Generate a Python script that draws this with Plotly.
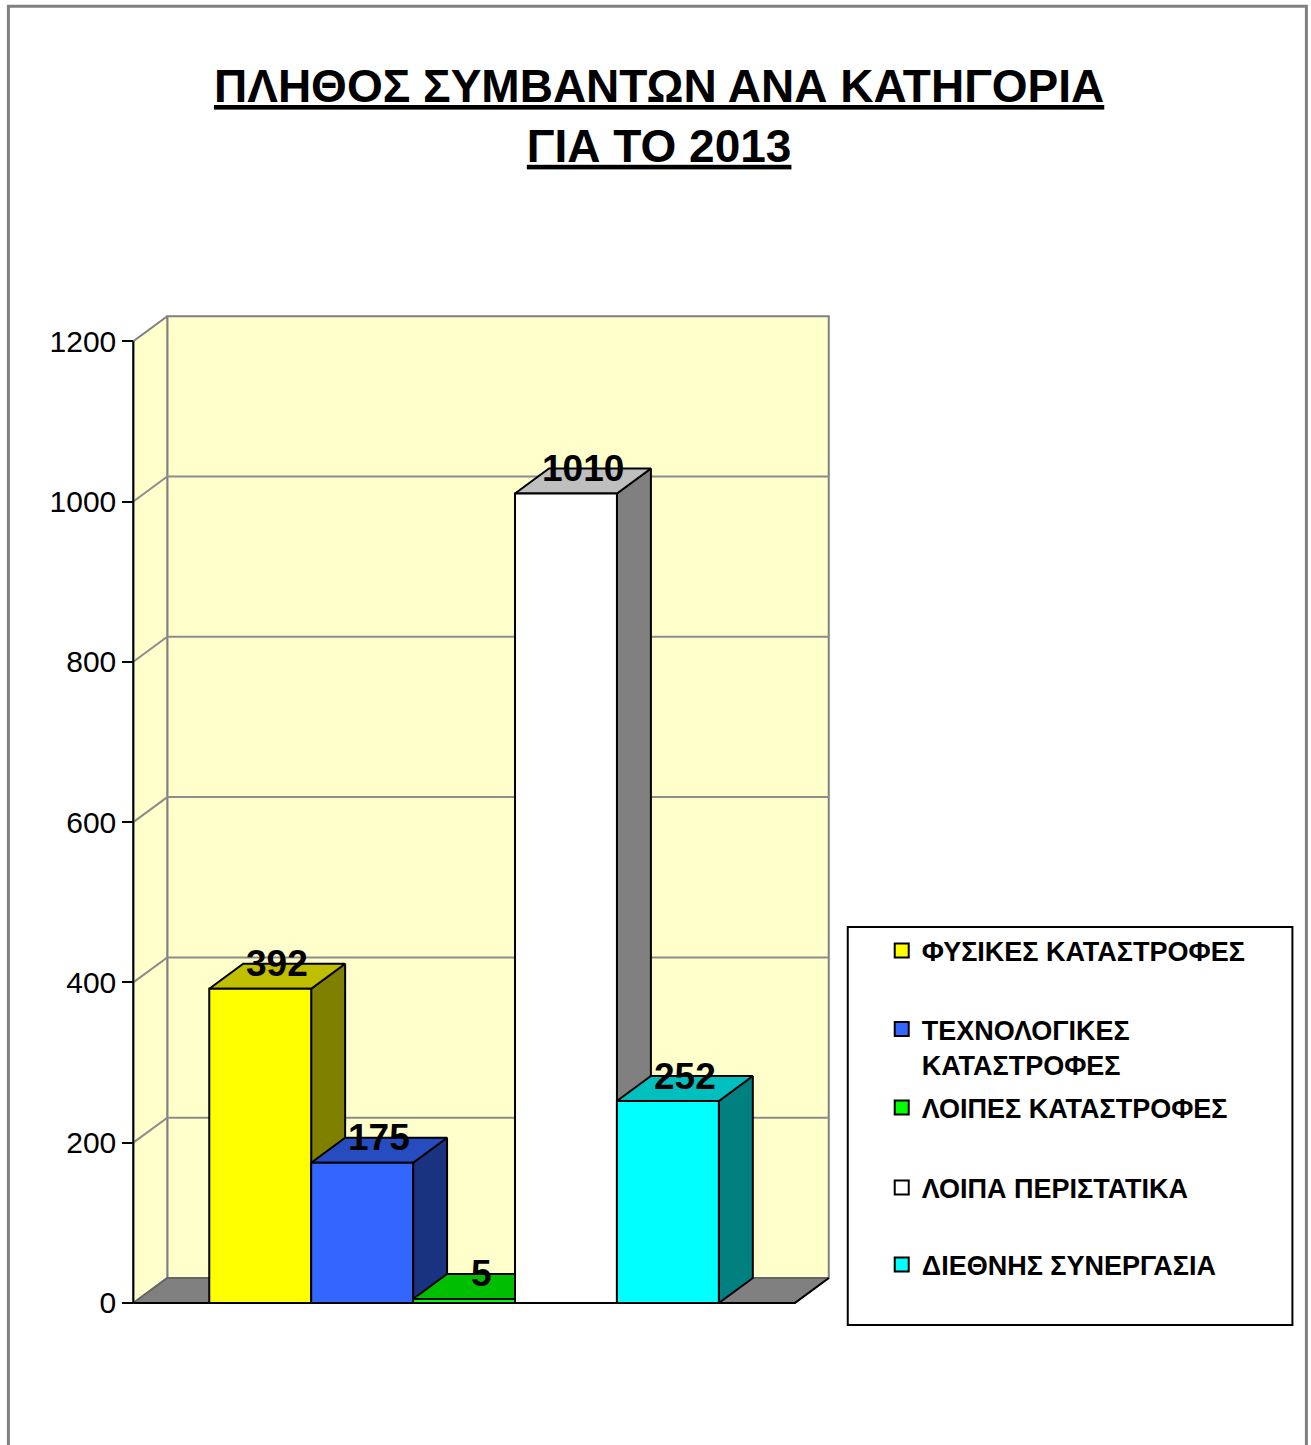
import plotly.graph_objects as go

# ---------------- data ----------------
categories = ["ΦΥΣΙΚΕΣ ΚΑΤΑΣΤΡΟΦΕΣ", "ΤΕΧΝΟΛΟΓΙΚΕΣ<br>ΚΑΤΑΣΤΡΟΦΕΣ", "ΛΟΙΠΕΣ ΚΑΤΑΣΤΡΟΦΕΣ",
              "ΛΟΙΠΑ ΠΕΡΙΣΤΑΤΙΚΑ", "ΔΙΕΘΝΗΣ ΣΥΝΕΡΓΑΣΙΑ"]
values = [392, 175, 5, 1010, 252]
front_colors = ["#FFFF00", "#3366FF", "#00FF00", "#FFFFFF", "#00FFFF"]
tick_values = [0, 200, 400, 600, 800, 1000, 1200]
title_lines = ["ΠΛΗΘΟΣ ΣΥΜΒΑΝΤΩΝ ΑΝΑ ΚΑΤΗΓΟΡΙΑ", "ΓΙΑ ΤΟ 2013"]

# ---------------- geometry / style ----------------
W, H = 1311, 1445
KX = 102.0            # px per category unit
KY = 962.0 / 1200.0   # px per value unit
DX = 34.0 / KX        # 3-D depth in x units
DY = 25.0 / KY        # 3-D depth in y units
GAP = 76.0 / KX
n = len(values)
FL = -0.5 - GAP
FR = n - 0.5 + GAP
YMAX = tick_values[-1]
XMIN, XMAX = FL - 0.16, FR + DX + 0.12
YMIN, YTOP = -15.0, YMAX + DY + 14.0
AX_PX, ZERO_PY = 133.0, 1303.0

ml = AX_PX - (FL - XMIN) * KX
plot_w = (XMAX - XMIN) * KX
mr = W - ml - plot_w
mt = ZERO_PY - YTOP * KY
plot_h = (YTOP - YMIN) * KY
mb = H - mt - plot_h


def paper(px, py):
    return (px - ml) / plot_w, (H - mb - py) / plot_h


def shade(hexc, f):
    h = hexc.lstrip("#")
    r, g, b = (int(h[i:i + 2], 16) for i in (0, 2, 4))
    return "#%02X%02X%02X" % (round(r * f), round(g * f), round(b * f))


FONT = "Liberation Sans, Arial, sans-serif"
fig = go.Figure()


def poly(xs, ys, fill, lc, lw):
    fig.add_trace(go.Scatter(x=xs + [xs[0]], y=ys + [ys[0]], fill="toself", fillcolor=fill,
                             mode="lines", line=dict(color=lc, width=lw),
                             showlegend=False, hoverinfo="skip"))


def line(xs, ys, lc, lw):
    fig.add_trace(go.Scatter(x=xs, y=ys, mode="lines", line=dict(color=lc, width=lw),
                             showlegend=False, hoverinfo="skip", connectgaps=False))


# walls
poly([FL + DX, FR + DX, FR + DX, FL + DX], [DY, DY, YMAX + DY, YMAX + DY], "#FFFFCC", "#808080", 2)
poly([FL, FL + DX, FL + DX, FL], [0, DY, YMAX + DY, YMAX], "#FFFFCC", "#808080", 2)
# gridlines across side wall and back wall
gx, gy = [], []
for v in tick_values[1:-1]:
    gx += [FL, FL + DX, FR + DX, None]
    gy += [v, v + DY, v + DY, None]
line(gx, gy, "#8C8C8C", 2)
# floor
poly([FL, FR, FR + DX, FL + DX], [0, 0, DY, DY], "#808080", "#666666", 2)
line([FL, FR, FR + DX], [0, 0, DY], "#000000", 2)
# front axis line
line([FL, FL], [0, YMAX], "#000000", 2)

# bars
for i, (v, c) in enumerate(zip(values, front_colors)):
    x0, x1 = i - 0.5, i + 0.5
    poly([x1, x1 + DX, x1 + DX, x1], [0, DY, v + DY, v], shade(c, 0.5), "#000000", 2)
    poly([x0, x1, x1 + DX, x0 + DX], [v, v, v + DY, v + DY], shade(c, 0.75), "#000000", 2)
    poly([x0, x1, x1, x0], [0, 0, v, v], c, "#000000", 2)

# legend entries (one legend per item, placed like the reference)
legend_py = [951, 1005, 1108, 1188, 1265]
legend_keys = ["legend", "legend2", "legend3", "legend4", "legend5"]
layout_legends = {}
for k, (name, c, py) in enumerate(zip(categories, front_colors, legend_py)):
    fig.add_trace(go.Scatter(x=[None], y=[None], mode="markers", name="<b>%s</b>" % name,
                             marker=dict(symbol="square", size=14, color=c,
                                         line=dict(color="#000000", width=2)),
                             legend=legend_keys[k], showlegend=True))
    lx, ly = paper(882, py)
    layout_legends[legend_keys[k]] = dict(
        x=lx, y=ly, xanchor="left", yanchor="top" if k == 1 else "middle",
        bgcolor="rgba(0,0,0,0)", borderwidth=0, valign="top",
        font=dict(family=FONT, size=27, color="#000000"), itemclick=False)

annotations = []
for i, v in enumerate(values):
    annotations.append(dict(x=i + DX / 2, y=v + DY, xref="x", yref="y", text="<b>%d</b>" % v,
                            showarrow=False, xanchor="center", yanchor="middle",
                            font=dict(family=FONT, size=37, color="#000000")))
tx, ty = paper(659.5, 116)
annotations.append(dict(x=tx, y=ty, xref="paper", yref="paper",
                        text="<br>".join("<b><u>%s</u></b>" % s for s in title_lines),
                        showarrow=False, xanchor="center", yanchor="middle",
                        font=dict(family=FONT, size=46, color="#000000")))

bx0, by0 = paper(8, 1450)
bx1, by1 = paper(1307, 6)
lgx0, lgy0 = paper(848, 1325)
lgx1, lgy1 = paper(1293, 927)
shapes = [
    dict(type="rect", xref="paper", yref="paper", x0=bx0, y0=by0, x1=bx1, y1=by1,
         line=dict(color="#808080", width=3), fillcolor="rgba(0,0,0,0)", layer="above"),
    dict(type="rect", xref="paper", yref="paper", x0=lgx0, y0=lgy0, x1=lgx1, y1=lgy1,
         line=dict(color="#000000", width=2), fillcolor="rgba(0,0,0,0)", layer="above"),
]

fig.update_layout(
    width=W, height=H, autosize=False,
    margin=dict(l=ml, r=mr, t=mt, b=mb, pad=0),
    paper_bgcolor="#FFFFFF", plot_bgcolor="rgba(0,0,0,0)",
    xaxis=dict(range=[XMIN, XMAX], visible=False, fixedrange=True),
    yaxis=dict(range=[YMIN, YTOP], tickvals=tick_values, ticktext=[str(t) for t in tick_values],
               ticks="outside", ticklen=11, tickwidth=2, tickcolor="#000000",
               showgrid=False, zeroline=False, showline=False,
               anchor="free", position=paper(AX_PX, 0)[0], fixedrange=True,
               tickfont=dict(family=FONT, size=30, color="#000000")),
    annotations=annotations, shapes=shapes,
    hovermode=False,
    **layout_legends,
)

fig.write_html("out.html", config={"displayModeBar": False},
               post_script="document.body.style.margin='0';")
